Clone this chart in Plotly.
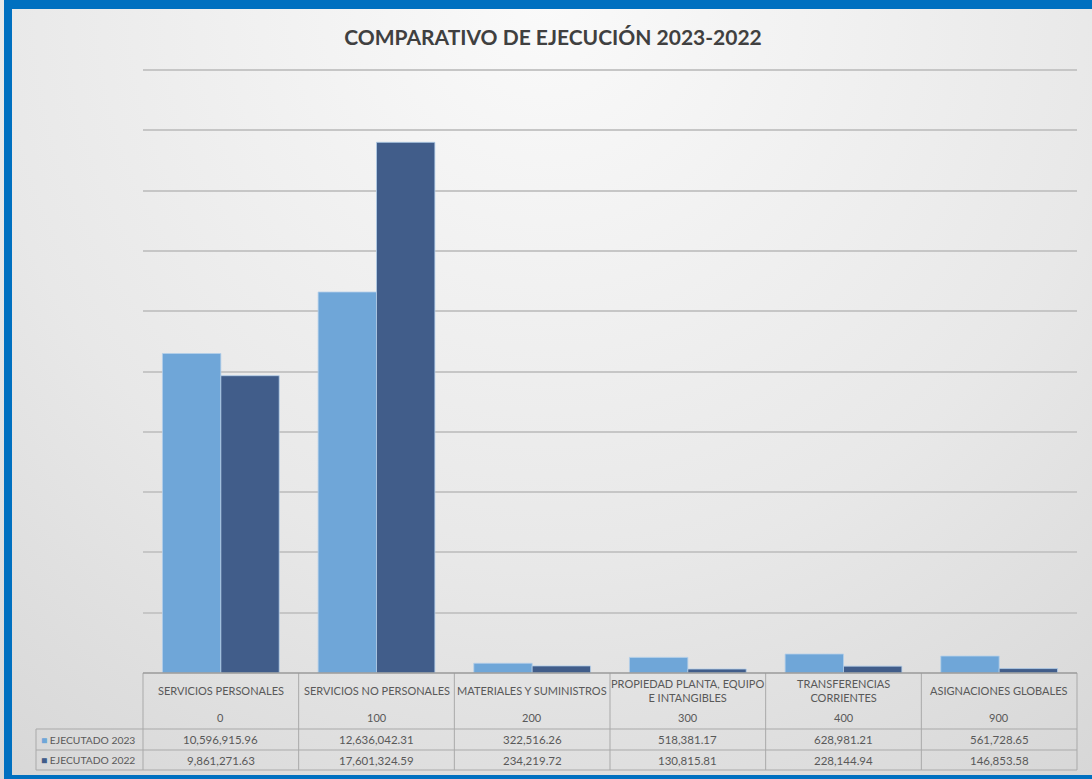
import base64
import plotly.graph_objects as go

# 数据
categorias = ["SERVICIOS PERSONALES", "SERVICIOS NO PERSONALES", "MATERIALES Y SUMINISTROS",
              "PROPIEDAD PLANTA, EQUIPO<br>E INTANGIBLES", "TRANSFERENCIAS<br>CORRIENTES",
              "ASIGNACIONES GLOBALES"]
codigos = ["0", "100", "200", "300", "400", "900"]
ejecutado_2023 = [10596915.96, 12636042.31, 322516.26, 518381.17, 628981.21, 561728.65]
ejecutado_2022 = [9861271.63, 17601324.59, 234219.72, 130815.81, 228144.94, 146853.58]
series = [("EJECUTADO 2023", ejecutado_2023, "#6fa6d8"),
          ("EJECUTADO 2022", ejecutado_2022, "#415d8a")]

W, H = 1092, 779
X0, X1 = 143, 1077      # 绘图区 (像素)
Y_BOT = 673
Y_TOP = 70 - (673 - 70) * 0.1 / 20   # 顶部留一点空间, 让 20M 网格线显示
TXT = "#595959"
LINE = "#a9a9a9"
FONT = "Lato"


def px(x):
    return x / W


def py(y):
    return 1 - y / H


# 背景渐变 (svg)
svg = f"""<svg xmlns='http://www.w3.org/2000/svg' width='{W}' height='{H}'>
<defs><radialGradient id='g' cx='0.5' cy='0.0' r='0.95' gradientTransform='translate(0.5,0) scale(1,1.4) translate(-0.5,0)'>
<stop offset='0' stop-color='#fafafa'/><stop offset='0.55' stop-color='#e8e8e8'/><stop offset='1' stop-color='#d3d3d3'/>
</radialGradient></defs><rect width='100%' height='100%' fill='url(#g)'/></svg>"""
bg_src = "data:image/svg+xml;base64," + base64.b64encode(svg.encode()).decode()

fig = go.Figure()
for name, vals, color in series:
    fig.add_trace(go.Bar(
        x=categorias, y=vals, name=name,
        marker=dict(color=color, line=dict(color="#b4cfea", width=0.8)),
        hoverinfo="x+y",
    ))

shapes = []
annotations = []

# 蓝色边框
blue = "#0070c0"
for x0, y0, x1, y1 in [(4, 0, 12, H), (4, 0, W, 9), (4, 775, W, H)]:
    shapes.append(dict(type="rect", xref="paper", yref="paper", x0=px(x0), x1=px(x1),
                       y0=py(y1), y1=py(y0), fillcolor=blue, line_width=0, layer="above"))

# 表格线
ncat = len(categorias)
cw = (X1 - X0) / ncat
row_y = [Y_BOT, 729, 750, 770]
for i in range(ncat + 1):
    x = X0 + i * cw
    shapes.append(dict(type="line", xref="paper", yref="paper", x0=px(x), x1=px(x),
                       y0=py(Y_BOT), y1=py(row_y[-1]), line=dict(color=LINE, width=1)))
shapes.append(dict(type="line", xref="paper", yref="paper", x0=px(36), x1=px(36),
                   y0=py(row_y[1]), y1=py(row_y[-1]), line=dict(color=LINE, width=1)))
for y in row_y[1:]:
    shapes.append(dict(type="line", xref="paper", yref="paper", x0=px(36), x1=px(X1),
                       y0=py(y), y1=py(y), line=dict(color=LINE, width=1)))
shapes.append(dict(type="line", xref="paper", yref="paper", x0=px(X0), x1=px(X1),
                   y0=py(Y_BOT), y1=py(Y_BOT), line=dict(color="#9a9a9a", width=1.5)))

# 表格文字
for i, (cat, cod) in enumerate(zip(categorias, codigos)):
    cx = px(X0 + (i + 0.5) * cw)
    annotations.append(dict(x=cx, y=py(690), xref="paper", yref="paper", text=cat,
                            xanchor="center", yanchor="middle", showarrow=False,
                            font=dict(size=11, color=TXT, family=FONT)))
    annotations.append(dict(x=cx, y=py(717), xref="paper", yref="paper", text=cod,
                            xanchor="center", yanchor="middle", showarrow=False,
                            font=dict(size=11, color=TXT, family=FONT)))
    for (name, vals, color), yrow in zip(series, [739.5, 760]):
        annotations.append(dict(x=cx, y=py(yrow), xref="paper", yref="paper",
                                text=f"{vals[i]:,.2f}", xanchor="center", yanchor="middle",
                                showarrow=False, font=dict(size=11.5, color=TXT, family=FONT)))

for (name, vals, color), yrow in zip(series, [739.5, 760]):
    annotations.append(dict(x=px(39), y=py(yrow), xref="paper", yref="paper", xanchor="left",
                            yanchor="middle",
                            text=f"<span style='color:{color}'>■</span> {name}", showarrow=False,
                            font=dict(size=10.3, color=TXT, family=FONT)))

fig.update_layout(
    width=W, height=H,
    margin=dict(l=0, r=0, t=0, b=0),
    paper_bgcolor="#e6e6e6",
    plot_bgcolor="rgba(0,0,0,0)",
    barmode="group",
    bargap=0.25,
    bargroupgap=0,
    showlegend=False,
    title=dict(text="<b>COMPARATIVO DE EJECUCIÓN 2023-2022</b>", x=px(553), y=py(38),
               xanchor="center", yanchor="middle",
               font=dict(size=21, color="#404040", family=FONT)),
    xaxis=dict(domain=[px(X0), px(X1)], showticklabels=False, showgrid=False,
               zeroline=False, showline=False),
    yaxis=dict(domain=[py(Y_BOT), py(Y_TOP)], range=[0, 20100000], dtick=2000000,
               showticklabels=False, showgrid=True, gridcolor="#c6c6c6", gridwidth=1.5,
               zeroline=False, showline=False),
    images=[dict(source=bg_src, xref="paper", yref="paper", x=0, y=1, sizex=1, sizey=1,
                 sizing="stretch", layer="below")],
    shapes=shapes,
    annotations=annotations,
)

# 去掉页面默认边距
fig.write_html("out.html", config={"displayModeBar": False},
               post_script="document.body.style.margin='0';")
